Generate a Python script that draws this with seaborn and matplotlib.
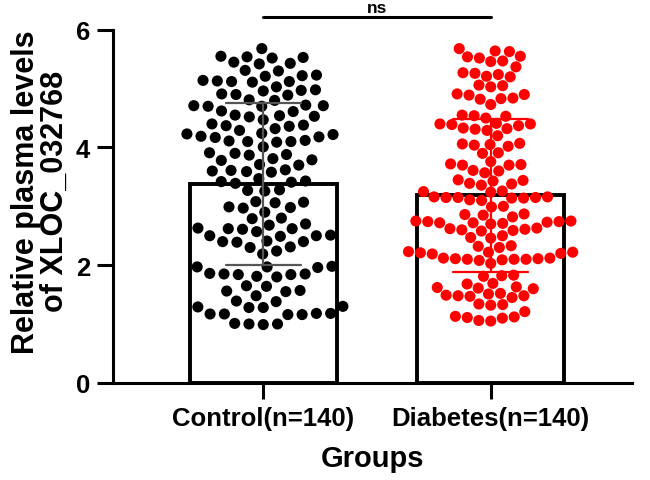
import matplotlib
matplotlib.use("Agg")
import matplotlib.pyplot as plt
import pandas as pd
import seaborn as sns

# 数据：两组各 140 个样本
groups = ["Control(n=140)", "Diabetes(n=140)"]
dot_colors = ["#000000", "#ff0000"]
err_colors = ["#555555", "#ff0000"]

control = [
    5.68, 5.53, 5.55, 5.52, 5.54, 5.43, 5.45, 5.42, 5.30, 5.31,
    5.22, 5.21, 5.23, 5.12, 5.13, 5.11, 5.12, 5.14, 5.03, 4.97,
    4.98, 4.96, 4.90, 4.91, 4.89, 4.80, 4.81, 4.71, 4.72, 4.70,
    4.71, 4.70, 4.61, 4.62, 4.54, 4.55, 4.53, 4.52, 4.47, 4.40,
    4.37, 4.38, 4.36, 4.32, 4.29, 4.23, 4.24, 4.22, 4.18, 4.19,
    4.17, 4.12, 4.10, 4.11, 4.09, 4.10, 4.01, 3.90, 3.91, 3.88,
    3.87, 3.81, 3.78, 3.79, 3.70, 3.71, 3.61, 3.62, 3.59, 3.58,
    3.60, 3.47, 3.42, 3.43, 3.41, 3.39, 3.27, 3.28, 3.26, 3.08,
    3.07, 3.06, 2.99, 2.97, 2.98, 2.90, 2.79, 2.80, 2.70, 2.68,
    2.62, 2.63, 2.61, 2.62, 2.57, 2.50, 2.51, 2.49, 2.50, 2.40,
    2.41, 2.39, 2.40, 2.31, 2.30, 2.24, 2.19, 1.97, 1.98, 1.96,
    1.97, 1.85, 1.86, 1.84, 1.85, 1.84, 1.80, 1.81, 1.65, 1.64,
    1.56, 1.57, 1.55, 1.48, 1.38, 1.39, 1.29, 1.30, 1.28, 1.28,
    1.17, 1.18, 1.16, 1.17, 1.18, 1.16, 1.00, 1.01, 0.99, 1.00,
]

diabetes = [
    5.68, 5.63, 5.64, 5.54, 5.55, 5.52, 5.46, 5.47, 5.37, 5.26,
    5.27, 5.24, 5.20, 5.21, 5.05, 5.06, 5.03, 4.91, 4.89, 4.90,
    4.83, 4.84, 4.82, 4.73, 4.54, 4.55, 4.53, 4.50, 4.40, 4.41,
    4.39, 4.40, 4.37, 4.32, 4.33, 4.31, 4.29, 4.20, 4.06, 4.07,
    4.04, 4.05, 4.02, 3.90, 3.91, 3.76, 3.71, 3.72, 3.70, 3.70,
    3.61, 3.60, 3.57, 3.44, 3.45, 3.43, 3.39, 3.38, 3.36, 3.25,
    3.26, 3.24, 3.15, 3.16, 3.14, 3.15, 3.16, 3.14, 3.15, 3.10,
    3.11, 2.99, 3.00, 2.87, 2.86, 2.85, 2.82, 2.74, 2.75, 2.73,
    2.74, 2.75, 2.72, 2.72, 2.71, 2.70, 2.62, 2.63, 2.61, 2.60,
    2.59, 2.58, 2.50, 2.47, 2.46, 2.33, 2.32, 2.30, 2.22, 2.23,
    2.21, 2.22, 2.20, 2.19, 2.11, 2.12, 2.10, 2.11, 2.12, 2.10,
    2.10, 2.09, 2.08, 2.03, 1.82, 1.83, 1.81, 1.69, 1.68, 1.63,
    1.62, 1.60, 1.61, 1.51, 1.52, 1.48, 1.49, 1.47, 1.48, 1.45,
    1.34, 1.33, 1.32, 1.21, 1.12, 1.13, 1.10, 1.11, 1.05, 1.06,
]

yticks = [0, 2, 4, 6]
sig_label = "ns"
sig_y = 6.22

df = pd.DataFrame({
    "group": [groups[0]] * len(control) + [groups[1]] * len(diabetes),
    "value": control + diabetes,
})

sns.set_style("ticks")
plt.rcParams["font.family"] = ["Liberation Sans", "DejaVu Sans"]
plt.rcParams["font.weight"] = "bold"
for k in ["text.color", "axes.labelcolor", "xtick.color", "ytick.color", "axes.edgecolor"]:
    plt.rcParams[k] = "black"

fig = plt.figure(figsize=(6.5, 4.81), dpi=100)
ax = fig.add_axes([0.174, 0.202, 0.798, 0.734])

# 柱子 + SD 误差线（两组颜色不同，所以分开画）
for g, ec in zip(groups, err_colors):
    sns.barplot(data=df[df.group == g], x="group", y="value", order=groups,
                errorbar="sd", capsize=0.33, width=0.645,
                color="white", edgecolor="black", linewidth=2.8,
                err_kws={"color": ec, "linewidth": 1.6}, ax=ax)

# 散点（linewidth 只用来拉开点距，边不画）
for g, c, lw in zip(groups, dot_colors, [1.8, 0.2]):
    sns.swarmplot(data=df[df.group == g], x="group", y="value", order=groups,
                  color=c, size=8, linewidth=lw, edgecolor="none",
                  warn_thresh=1, ax=ax)

for p in ax.patches:
    p.set_zorder(1)
for coll in ax.collections:
    coll.set_zorder(3)
for ln in ax.lines:
    ln.set_zorder(4)

ax.set_ylim(0, 6)
ax.set_yticks(yticks)
ax.set_xlim(-0.66, 1.62)
sns.despine(ax=ax)
for s in ["left", "bottom"]:
    ax.spines[s].set_linewidth(2.2)
ax.tick_params(width=2.2, length=11.5, pad=5, labelsize=18.5, colors="black")
for lab in ax.get_xticklabels() + ax.get_yticklabels():
    lab.set_fontweight("bold")

ax.set_xlabel("Groups", fontsize=21, fontweight="bold", labelpad=10)
ax.set_ylabel("Relative plasma levels\nof XLOC_032768", fontsize=22,
              fontweight="bold", linespacing=0.95)
ax.yaxis.set_label_coords(-0.083, 0.544)

# 显著性标注
ax.plot([0, 1], [sig_y, sig_y], color="black", lw=2.2, clip_on=False)
ax.text(0.5, sig_y + 0.03, sig_label, ha="center", va="bottom",
        fontsize=12.5, fontweight="bold")

fig.savefig("out.png", dpi=100)
